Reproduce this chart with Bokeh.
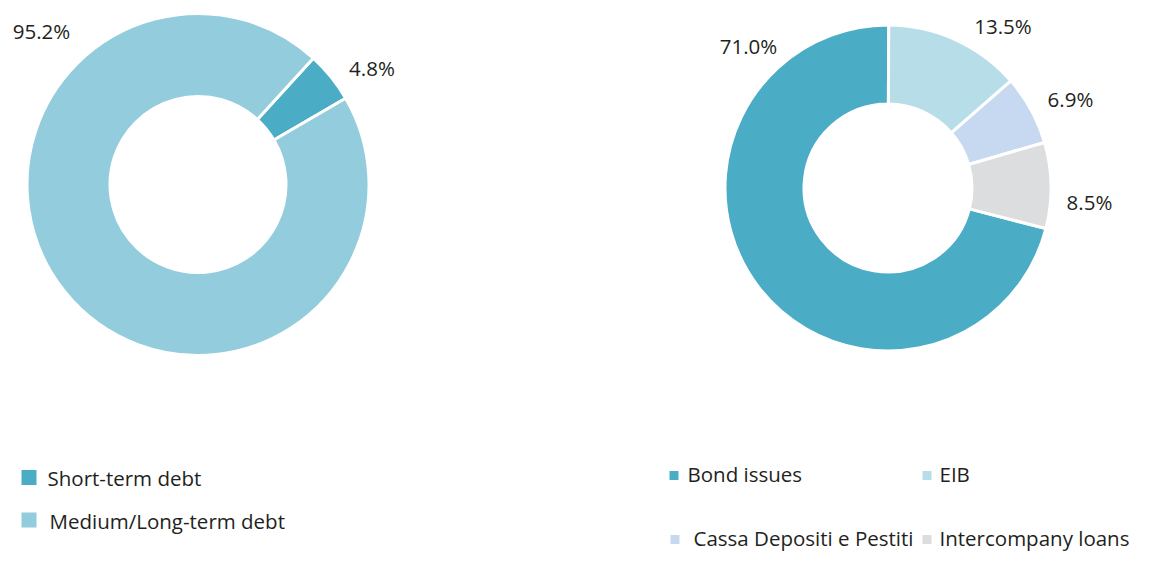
import numpy as np
from bokeh.plotting import figure
from bokeh.models import Range1d, ColumnDataSource
from bokeh.embed import file_html
from bokeh.resources import INLINE
from bokeh.core.properties import value

# ---------------- data ----------------
debt_types = ["Short-term debt", "Medium/Long-term debt"]
debt_shares = [4.8, 95.2]
debt_colors = ["#4BACC6", "#93CDDD"]

source_types = ["Bond issues", "EIB", "Cassa Depositi e Pestiti", "Intercompany loans"]
source_shares = [71.0, 13.5, 6.9, 8.5]
source_colors = ["#4BACC6", "#B7DEE8", "#C6D9F1", "#DCDDDF"]

# ---------------- layout ----------------
W, H = 1133, 555
FONT = value("Open Sans")
TXT = "#231F20"
FS = "20.5px"
TY = 9  # correction between requested baseline and drawn glyph baseline


def Y(py):
    return H - py


def YT(py):
    return H - (py - TY)


p = figure(width=W, height=H, x_range=Range1d(0, W), y_range=Range1d(0, H),
           output_backend="svg", toolbar_location=None, min_border=0,
           x_axis_location=None, y_axis_location=None)
p.grid.visible = False
p.outline_line_color = None
p.background_fill_color = "white"
p.border_fill_color = "white"


def donut(cx, cy, r_in, r_out, shares, colors, start_deg, label_pos):
    s = np.array(shares, dtype=float)
    cum = np.concatenate([[0.0], np.cumsum(s)]) / s.sum() * 360.0
    th0 = start_deg + cum[:-1]
    th1 = start_deg + cum[1:]
    src = ColumnDataSource(dict(start=np.radians(90 - th1), end=np.radians(90 - th0),
                                color=list(colors)))
    p.annular_wedge(x=cx, y=Y(cy), inner_radius=r_in, outer_radius=r_out,
                    start_angle="start", end_angle="end", direction="anticlock",
                    fill_color="color", line_color="white", line_width=3, source=src)
    lsrc = ColumnDataSource(dict(x=[lp[0] for lp in label_pos], y=[YT(lp[1]) for lp in label_pos],
                                 t=[f"{v:.1f}%" for v in shares]))
    p.text(x="x", y="y", text="t", source=lsrc, text_font=FONT, text_font_size=FS,
           text_color=TXT, text_align="center", text_baseline="alphabetic")


# left donut: label anchors (center x, baseline y)
donut(197.5, 184, 88, 171, debt_shares, debt_colors, 42.4,
      [(371.5, 76), (41, 39.5)])
# right donut
donut(887.5, 187.5, 84, 163, source_shares, source_colors, 360 - source_shares[0] * 3.6,
      [(748, 54), (1002.5, 34), (1070, 107.5), (1089, 210.5)])

# legends
left_sq = [(28.5, 477), (28.5, 519.5)]
left_tx = [(47, 486), (49, 529)]
for (sx, sy), (tx, ty), name, col in zip(left_sq, left_tx, debt_types, debt_colors):
    p.rect(x=sx, y=Y(sy), width=15, height=15, fill_color=col, line_color=None)
    p.text(x=[tx], y=[YT(ty)], text=[name], text_font=FONT, text_font_size=FS,
           text_color=TXT, text_align="left", text_baseline="alphabetic")

right_sq = [(673.5, 475), (926.5, 475), (674.5, 539), (926.5, 539)]
right_tx = [(687, 482), (939, 482), (693, 546), (939, 546)]
for (sx, sy), (tx, ty), name, col in zip(right_sq, right_tx, source_types, source_colors):
    p.rect(x=sx, y=Y(sy), width=9, height=9, fill_color=col, line_color=None)
    p.text(x=[tx], y=[YT(ty)], text=[name], text_font=FONT, text_font_size=FS,
           text_color=TXT, text_align="left", text_baseline="alphabetic")

open("out.html", "w").write(file_html(p, INLINE))
